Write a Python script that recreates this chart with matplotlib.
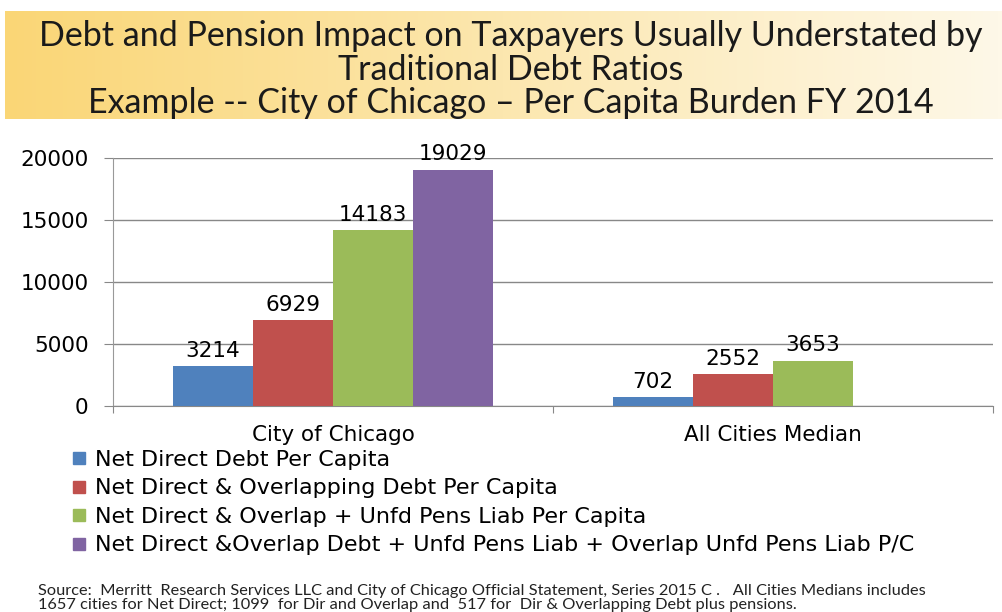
import numpy as np
import matplotlib.pyplot as plt
from matplotlib.lines import Line2D

# data
categories = ['City of Chicago', 'All Cities Median']
series_names = ['Net Direct Debt Per Capita',
                'Net Direct & Overlapping Debt Per Capita',
                'Net Direct & Overlap + Unfd Pens Liab Per Capita',
                'Net Direct &Overlap Debt + Unfd Pens Liab + Overlap Unfd Pens Liab P/C']
net_direct = [3214, 702]
direct_overlap = [6929, 2552]
overlap_pens = [14183, 3653]
overlap_all_pens = [19029, np.nan]
series_values = [net_direct, direct_overlap, overlap_pens, overlap_all_pens]
colors = ['#4F81BD', '#C0504D', '#9BBB59', '#8064A2']
yticks = [0, 5000, 10000, 15000, 20000]

title_lines = ['Debt and Pension Impact on Taxpayers Usually Understated by',
               'Traditional Debt Ratios',
               'Example -- City of Chicago \u2013 Per Capita Burden FY 2014']
source_text = ('Source:  Merritt  Research Services LLC and City of Chicago Official Statement, Series 2015 C .   '
               'All Cities Medians includes\n'
               '1657 cities for Net Direct; 1099  for Dir and Overlap and  517 for  Dir & Overlapping Debt plus pensions.')

fs = 15.5

fig = plt.figure(figsize=(10.02, 6.12), dpi=100)

# title band with gradient
band = fig.add_axes([5 / 1002, 1 - 119 / 612, 997 / 1002, 108 / 612])
grad = np.linspace(0, 1, 256)
left_c = np.array([250, 214, 118]) / 255
right_c = np.array([254, 248, 232]) / 255
img = left_c[None, :] * (1 - grad[:, None]) + right_c[None, :] * grad[:, None]
band.imshow(img[None, :, :], aspect='auto', extent=[0, 1, 0, 1])
band.set_xlim(0, 1)
band.set_ylim(0, 1)
band.axis('off')
for i, line in enumerate(title_lines):
    band.text(0.5075, 0.765 - i * 0.31, line, ha='center', va='center',
              fontsize=24.5, family='Lato', color='#1a1a1a')

ax = fig.add_axes([113 / 1002, 1 - 406 / 612, 880 / 1002, 248 / 612])
x = np.arange(len(categories))
w = 80 / 440
for i, (vals, col) in enumerate(zip(series_values, colors)):
    pos = x + (i - 1.5) * w
    bars = ax.bar(pos, vals, width=w, color=col, zorder=3)
    for xp, v in zip(pos, vals):
        if not np.isnan(v):
            ax.text(xp, v + 450, f'{v:.0f}', ha='center', va='bottom', fontsize=fs)

ax.set_xlim(-0.5, 1.5)
ax.set_ylim(0, 20000)
ax.set_yticks(yticks)
ax.set_yticklabels([str(t) for t in yticks], fontsize=fs)
ax.set_xticks([-0.5, 0.5, 1.5], minor=False)
ax.set_xticklabels(['', '', ''])
ax.set_xticks(x, minor=True)
ax.set_xticklabels(categories, minor=True, fontsize=fs)
ax.tick_params(axis='x', which='minor', length=0, pad=14)
ax.tick_params(axis='x', which='major', length=5, color='#888888')
ax.tick_params(axis='y', length=6.5, color='#888888', pad=11)
ax.grid(axis='y', color='#888888', linewidth=1, zorder=0)
for s in ['top', 'right']:
    ax.spines[s].set_visible(False)
ax.spines['left'].set_color('#999999')
ax.spines['bottom'].set_color('#888888')

handles = [Line2D([], [], marker='s', linestyle='', markersize=9, color=c) for c in colors]
fig.legend(handles, series_names, loc='upper left', bbox_to_anchor=(68 / 1002, 1 - 450 / 612),
           frameon=False, fontsize=16, handletextpad=0.2, labelspacing=0.38, handlelength=1.0,
           borderaxespad=0, borderpad=0)

fig.text(38 / 1002, 1 - 598 / 612, source_text, family='Lato', fontsize=11.8,
         va='center', ha='left', linespacing=1.0, color='#222222')

fig.savefig('out.png', dpi=100)
